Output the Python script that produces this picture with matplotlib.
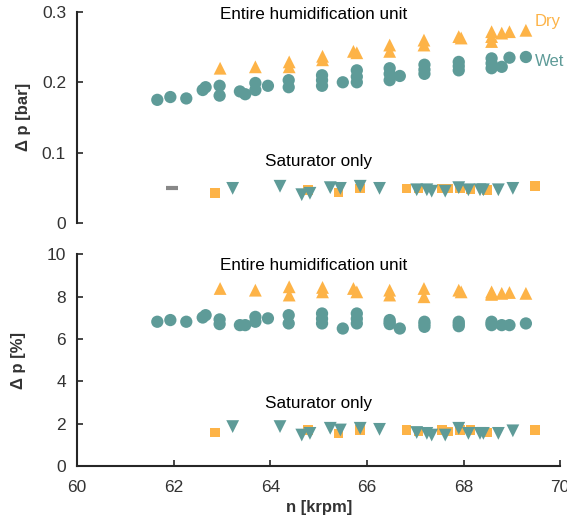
import numpy as np
import matplotlib.pyplot as plt

plt.rcParams['font.family'] = ['Liberation Sans', 'DejaVu Sans']

orange = '#FDB347'
teal = '#5E9B98'

# --- top panel: pressure drop in bar ---
# entire unit, wet (circles)
n_wet = [61.66, 61.93, 62.26, 62.6, 62.66, 62.95, 62.95, 63.37, 63.48, 63.69, 63.69, 63.95,
         64.38, 64.38, 65.07, 65.07, 65.07, 65.5, 65.79, 65.79, 65.79, 66.47, 66.47, 66.47, 66.68,
         67.19, 67.19, 67.19, 67.9, 67.9, 67.9, 68.58, 68.58, 68.58, 68.79, 68.95, 69.29]
dp_wet = [0.175, 0.179, 0.177, 0.189, 0.193, 0.195, 0.181, 0.187, 0.183, 0.199, 0.189, 0.195,
          0.203, 0.193, 0.21, 0.203, 0.195, 0.2, 0.217, 0.208, 0.2, 0.22, 0.212, 0.203, 0.209,
          0.225, 0.218, 0.212, 0.229, 0.223, 0.217, 0.234, 0.227, 0.22, 0.222, 0.235, 0.236]
# entire unit, dry (triangles)
n_dry = [62.96, 63.69, 64.39, 64.39, 65.08, 65.08, 65.72, 65.79, 66.47, 66.47, 67.18, 67.18,
         67.9, 67.95, 68.58, 68.58, 68.58, 68.79, 68.95, 69.29]
dp_dry = [0.22, 0.222, 0.229, 0.222, 0.237, 0.232, 0.244, 0.242, 0.253, 0.244, 0.26, 0.253,
          0.265, 0.263, 0.272, 0.265, 0.258, 0.27, 0.272, 0.274]
# saturator only, dry (squares)
n_sat_dry = [62.86, 64.78, 65.41, 65.86, 66.82, 67.07, 67.55, 67.69, 67.92, 68.14, 68.48, 69.48]
dp_sat_dry = [0.042, 0.047, 0.043, 0.049, 0.049, 0.049, 0.049, 0.049, 0.049, 0.048, 0.047, 0.052]
# saturator only, wet (down triangles)
n_sat_wet = [63.22, 64.2, 64.65, 64.82, 65.24, 65.45, 65.86, 66.26, 67.03, 67.24, 67.34, 67.62,
             67.9, 68.1, 68.34, 68.41, 68.72, 69.02]
dp_sat_wet = [0.049, 0.052, 0.040, 0.042, 0.050, 0.049, 0.052, 0.049, 0.047, 0.047, 0.045, 0.045,
              0.050, 0.047, 0.047, 0.047, 0.047, 0.049]

# --- bottom panel: relative pressure drop in % ---
pct_wet = [6.81, 6.89, 6.81, 7.01, 7.12, 6.92, 6.70, 6.65, 6.65, 7.04, 6.81, 6.97,
           7.12, 6.73, 7.2, 6.95, 6.73, 6.49, 7.2, 6.95, 6.73, 6.89, 6.78, 6.70, 6.49,
           6.81, 6.7, 6.57, 6.81, 6.7, 6.6, 6.81, 6.72, 6.65, 6.65, 6.65, 6.73]
pct_dry = [8.38, 8.3, 8.46, 8.07, 8.43, 8.22, 8.38, 8.22, 8.3, 8.07, 8.38, 7.99,
           8.3, 8.22, 8.22, 8.15, 8.1, 8.15, 8.19, 8.15]
pct_sat_dry = [1.59, 1.70, 1.54, 1.70, 1.70, 1.62, 1.70, 1.62, 1.70, 1.70, 1.59, 1.70]
pct_sat_wet = [1.86, 1.86, 1.46, 1.54, 1.78, 1.70, 1.78, 1.73, 1.58, 1.54, 1.46, 1.46,
               1.78, 1.54, 1.54, 1.54, 1.54, 1.66]

fig = plt.figure(figsize=(5.67, 5.23), dpi=100)
ax1 = fig.add_axes([0.136, 0.574, 0.852, 0.403])
ax2 = fig.add_axes([0.136, 0.109, 0.852, 0.405])

for ax, wet, dry, sdry, swet in [(ax1, dp_wet, dp_dry, dp_sat_dry, dp_sat_wet),
                                 (ax2, pct_wet, pct_dry, pct_sat_dry, pct_sat_wet)]:
    ax.scatter(n_wet, wet, s=78, marker='o', color=teal, edgecolors='none', zorder=3)
    ax.scatter(n_dry, dry, s=85, marker='^', color=orange, edgecolors='none', zorder=3)
    ax.scatter(n_sat_dry, sdry, s=48, marker='s', color=orange, edgecolors='none', zorder=3)
    ax.scatter(n_sat_wet, swet, s=85, marker='v', color=teal, edgecolors='none', zorder=3)
    ax.set_xlim(60, 70)
    for s in ['top', 'right']:
        ax.spines[s].set_visible(False)
    ax.spines['left'].set_linewidth(1.5)
    ax.spines['left'].set_color('#262626')
    ax.tick_params(direction='in', length=4, width=1.2, labelsize=12.5, pad=8,
                   colors='#262626', labelcolor='#333333')

# small grey marker in the top panel
ax1.plot([61.96], [0.050], marker='_', color='#888888', markersize=9, mew=3)

ax1.set_ylim(0, 0.3)
ax1.set_yticks([0, 0.1, 0.2, 0.3])
ax1.set_yticklabels(['0', '0.1', '0.2', '0.3'])
ax1.spines['bottom'].set_visible(False)
ax1.set_xticks([])
ax1.set_ylabel('Δ p [bar]', fontsize=12, fontweight='bold', color='#333333', labelpad=8)
ax1.text(64.9, 0.297, 'Entire humidification unit', fontsize=12.3, ha='center', va='center')
ax1.text(65.0, 0.087, 'Saturator only', fontsize=12.3, ha='center', va='center')
ax1.text(69.47, 0.287, 'Dry', fontsize=12, color=orange, ha='left', va='center', clip_on=False)
ax1.text(69.47, 0.230, 'Wet', fontsize=12, color=teal, ha='left', va='center', clip_on=False)

ax2.set_ylim(0, 10)
ax2.set_yticks([0, 2, 4, 6, 8, 10])
ax2.set_xticks([60, 62, 64, 66, 68, 70])
ax2.tick_params(axis='x', pad=10)
ax2.spines['bottom'].set_linewidth(1.5)
ax2.spines['bottom'].set_color('#262626')
ax2.set_ylabel('Δ p [%]', fontsize=12, fontweight='bold', color='#333333', labelpad=15)
ax2.set_xlabel('n [krpm]', fontsize=12, fontweight='bold', color='#333333', labelpad=4)
ax2.text(64.9, 9.48, 'Entire humidification unit', fontsize=12.3, ha='center', va='center')
ax2.text(65.0, 2.96, 'Saturator only', fontsize=12.3, ha='center', va='center')

fig.savefig('out.png', dpi=100)
